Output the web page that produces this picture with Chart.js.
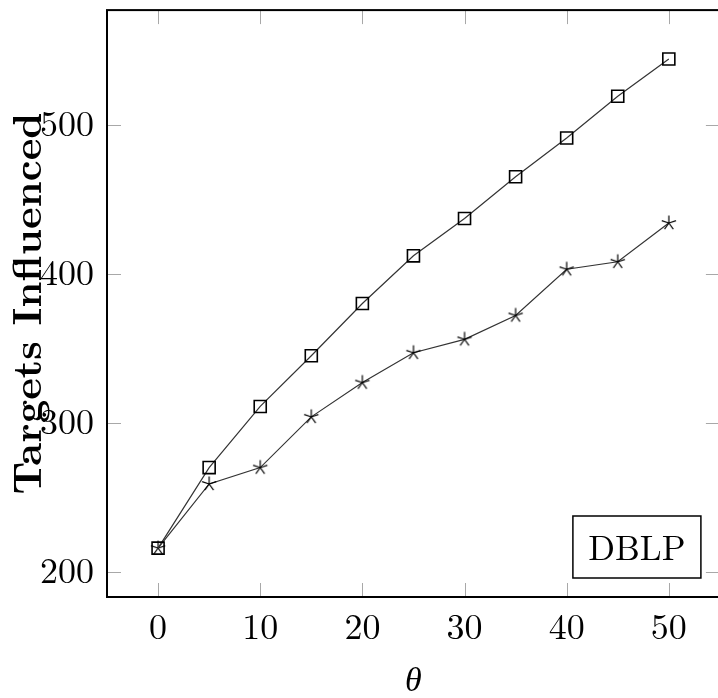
<!DOCTYPE html>
<html>
<head>
	<meta charset="UTF-8">
	<title>Targets Influenced - DBLP</title>
	<script src="https://cdn.jsdelivr.net/npm/chart.js"></script>
	<style>
		html, body {
			margin: 0;
			padding: 0;
			overflow: hidden;
			background: #ffffff;
		}
		#wrap {
			width: 730px;
			height: 698px;
		}
	</style>
</head>
<body>
	<div id="wrap">
		<canvas id="myChart" width="730" height="698"></canvas>
	</div>
	<script>
		// values
		const thetas = [0, 5, 10, 15, 20, 25, 30, 35, 40, 45, 50];
		const squareSeries = [216, 270, 311, 345, 380, 412, 437, 465, 491, 519, 544];
		const starSeries = [216, 259, 270, 304, 327, 347, 356, 372, 403, 408, 434];
		const xTicks = [0, 10, 20, 30, 40, 50];
		const yTicks = [200, 300, 400, 500];

		const serif = "'Latin Modern Roman', 'CMU Serif', 'Liberation Serif', 'DejaVu Serif', serif";

		// pgfplots style 5-ray star mark
		function makeStar() {
			const c = document.createElement('canvas');
			c.width = 18;
			c.height = 18;
			const g = c.getContext('2d');
			g.strokeStyle = '#000';
			g.lineWidth = 1.2;
			g.beginPath();
			for (let k = 0; k < 5; k++) {
				const a = -Math.PI / 2 + k * 2 * Math.PI / 5;
				g.moveTo(9, 9);
				g.lineTo(9 + 7.5 * Math.cos(a), 9 + 7.5 * Math.sin(a));
			}
			g.stroke();
			return c;
		}

		// inward ticks on all four sides + frame
		const framePlugin = {
			id: 'frame',
			afterDatasetsDraw: (chart) => {
				const {ctx, chartArea: a, scales} = chart;
				const len = 14;
				ctx.save();
				ctx.strokeStyle = '#a8a8a8';
				ctx.lineWidth = 1;
				ctx.beginPath();
				xTicks.forEach(v => {
					const px = Math.round(scales.x.getPixelForValue(v)) + 0.5;
					ctx.moveTo(px, a.bottom);
					ctx.lineTo(px, a.bottom - len);
					ctx.moveTo(px, a.top);
					ctx.lineTo(px, a.top + len);
				});
				yTicks.forEach(v => {
					const py = Math.round(scales.y.getPixelForValue(v)) + 0.5;
					ctx.moveTo(a.left, py);
					ctx.lineTo(a.left + len, py);
					ctx.moveTo(a.right, py);
					ctx.lineTo(a.right - len, py);
				});
				ctx.stroke();
				ctx.strokeStyle = '#000';
				ctx.lineWidth = 2;
				ctx.strokeRect(a.left, a.top, a.right - a.left, a.bottom - a.top);

				// legend-like label box
				const bw = 128, bh = 62;
				const bx = a.right - 19 - bw, by = a.bottom - 19 - bh;
				ctx.fillStyle = '#fff';
				ctx.fillRect(bx, by, bw, bh);
				ctx.lineWidth = 1.5;
				ctx.strokeRect(bx, by, bw, bh);
				ctx.fillStyle = '#000';
				ctx.font = '35px ' + serif;
				ctx.textAlign = 'center';
				ctx.textBaseline = 'middle';
				ctx.fillText('DBLP', bx + bw / 2, by + bh / 2 + 2);
				ctx.restore();
			}
		};

		const ctx = document.getElementById('myChart').getContext('2d');
		const chart = new Chart(ctx, {
			type: 'line',
			data: {
				datasets: [{
					label: 'square',
					data: thetas.map((t, i) => ({x: t, y: squareSeries[i]})),
					borderColor: '#333',
					borderWidth: 1.2,
					pointStyle: 'rect',
					pointRadius: 8.5,
					pointBorderWidth: 1.6,
					pointBorderColor: '#000',
					pointBackgroundColor: 'rgba(0,0,0,0)',
					fill: false,
					tension: 0
				}, {
					label: 'star',
					data: thetas.map((t, i) => ({x: t, y: starSeries[i]})),
					borderColor: '#333',
					borderWidth: 1.2,
					pointStyle: makeStar(),
					pointRadius: 8,
					fill: false,
					tension: 0
				}]
			},
			options: {
				responsive: false,
				animation: false,
				events: [],
				layout: {
					padding: {
						left: 0,
						right: 5,
						top: 7,
						bottom: 0
					}
				},
				scales: {
					x: {
						type: 'linear',
						min: -5,
						max: 55,
						afterFit: (scale) => {
							scale.height = 101;
							scale.paddingLeft = 0;
							scale.paddingRight = 0;
						},
						afterBuildTicks: (scale) => { scale.ticks = xTicks.map(v => ({value: v})); },
						grid: {
							display: false,
							drawTicks: false
						},
						border: {
							display: false
						},
						ticks: {
							color: '#000',
							padding: 9,
							maxRotation: 0,
							font: {
								family: serif,
								size: 36
							}
						},
						title: {
							display: true,
							text: 'θ',
							color: '#000',
							padding: 0,
							font: {
								family: serif,
								size: 34,
								style: 'italic',
								lineHeight: 1
							}
						}
					},
					y: {
						type: 'linear',
						min: 183.2,
						max: 576.8,
						afterFit: (scale) => {
							scale.width = 107;
							scale.paddingTop = 0;
							scale.paddingBottom = 0;
						},
						afterBuildTicks: (scale) => { scale.ticks = yTicks.map(v => ({value: v})); },
						grid: {
							display: false,
							drawTicks: false
						},
						border: {
							display: false
						},
						ticks: {
							color: '#000',
							padding: 13,
							font: {
								family: serif,
								size: 36
							}
						},
						title: {
							display: true,
							text: 'Targets Influenced',
							color: '#000',
							padding: {top: 8, bottom: 0},
							font: {
								family: serif,
								size: 41,
								weight: 'bold',
								lineHeight: 1
							}
						}
					}
				},
				plugins: {
					legend: {
						display: false
					},
					tooltip: {
						enabled: false
					}
				}
			},
			plugins: [framePlugin]
		});
	</script>
</body>
</html>
